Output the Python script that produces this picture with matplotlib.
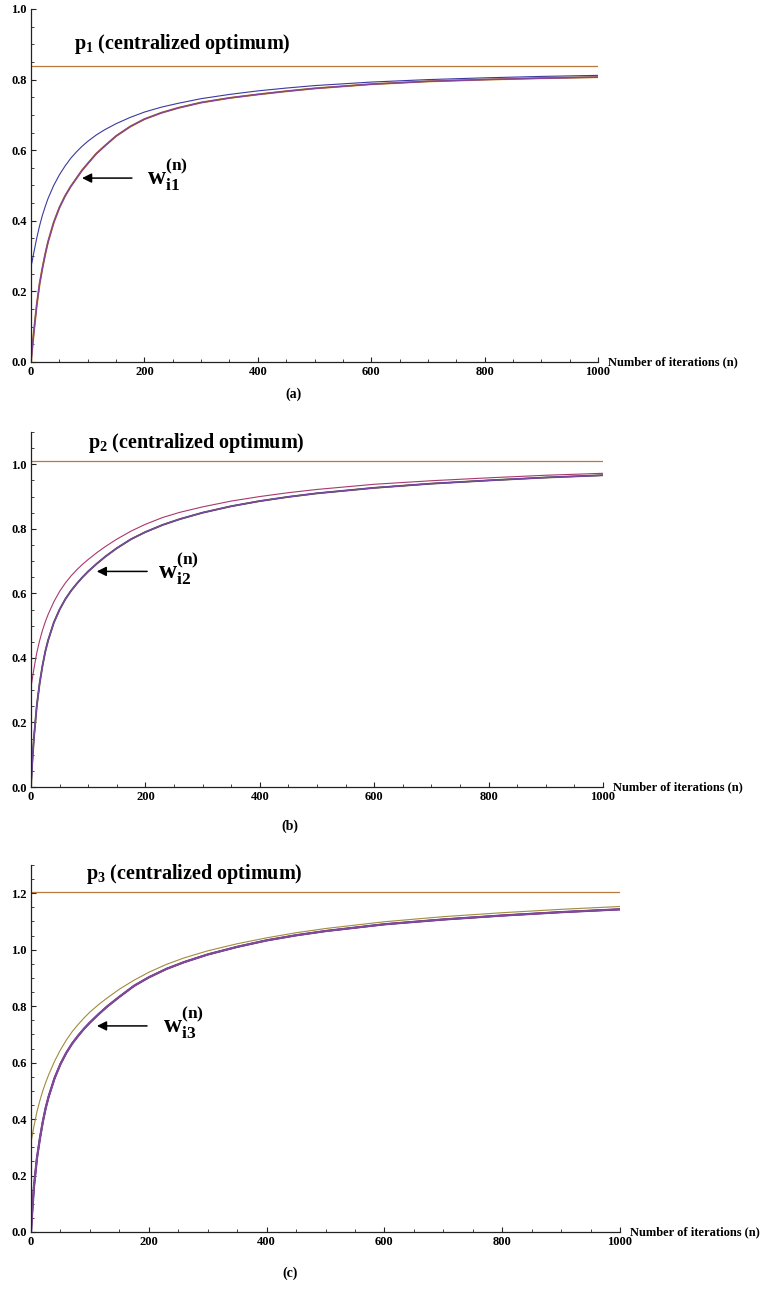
import numpy as np
import matplotlib
matplotlib.use("Agg")
import matplotlib.pyplot as plt
from matplotlib.ticker import MultipleLocator, FormatStrFormatter

plt.rcParams["font.family"] = ["Liberation Serif", "DejaVu Serif"]
plt.rcParams["font.weight"] = "bold"
plt.rcParams["mathtext.fontset"] = "custom"
plt.rcParams["mathtext.rm"] = "Liberation Serif:bold"
plt.rcParams["mathtext.bf"] = "Liberation Serif:bold"
plt.rcParams["mathtext.it"] = "Liberation Serif:bold"

n = [0, 2, 5, 10, 15, 20, 25, 30, 40, 50, 60, 70, 80, 90, 100, 115, 130, 150,
     175, 200, 230, 260, 300, 350, 400, 450, 500, 600, 700, 800, 900, 1000]

# (a) resource 1
p1 = 0.838
w1_fast = [0.27, 0.285, 0.31, 0.35, 0.385, 0.415, 0.44, 0.463, 0.50, 0.53, 0.555,
           0.577, 0.595, 0.611, 0.625, 0.643, 0.658, 0.675, 0.693, 0.708, 0.722,
           0.733, 0.746, 0.758, 0.768, 0.776, 0.783, 0.793, 0.80, 0.805, 0.809, 0.812]
w1_rest = [0.0, 0.035, 0.085, 0.16, 0.22, 0.265, 0.305, 0.34, 0.395, 0.437, 0.47,
           0.497, 0.52, 0.543, 0.562, 0.59, 0.612, 0.64, 0.667, 0.688, 0.706, 0.72,
           0.735, 0.748, 0.758, 0.767, 0.775, 0.787, 0.795, 0.80, 0.804, 0.807]

# (b) resource 2
p2 = 1.009
w2_fast = [0.31, 0.332, 0.365, 0.415, 0.453, 0.485, 0.512, 0.535, 0.574, 0.606,
           0.632, 0.654, 0.673, 0.69, 0.705, 0.726, 0.745, 0.768, 0.793, 0.814,
           0.835, 0.851, 0.868, 0.886, 0.90, 0.912, 0.922, 0.938, 0.949, 0.958,
           0.966, 0.972]
w2_rest = [0.0, 0.07, 0.15, 0.25, 0.32, 0.375, 0.42, 0.455, 0.51, 0.55, 0.582,
           0.608, 0.63, 0.65, 0.668, 0.692, 0.714, 0.74, 0.768, 0.79, 0.812, 0.83,
           0.85, 0.87, 0.886, 0.899, 0.91, 0.927, 0.94, 0.95, 0.959, 0.966]

# (c) resource 3
p3 = 1.203
w3_fast = [0.318, 0.34, 0.375, 0.425, 0.465, 0.50, 0.53, 0.557, 0.605, 0.645,
           0.68, 0.71, 0.735, 0.758, 0.779, 0.806, 0.83, 0.86, 0.892, 0.92, 0.948,
           0.971, 0.996, 1.021, 1.042, 1.06, 1.075, 1.099, 1.117, 1.131, 1.143, 1.153]
w3_rest = [0.0, 0.07, 0.16, 0.26, 0.33, 0.39, 0.44, 0.48, 0.545, 0.595, 0.635,
           0.668, 0.695, 0.72, 0.742, 0.772, 0.80, 0.833, 0.872, 0.902, 0.932,
           0.956, 0.983, 1.01, 1.033, 1.051, 1.066, 1.09, 1.107, 1.121, 1.133, 1.143]

BROWN = "#b87a3c"
BLUE = "#3a3aa0"
MAGENTA = "#a8386e"
OLIVE = "#a08c3a"
PURPLE = "#7c4a9e"
YELLOW = "#c8b440"


def style_axes(ax, ymax):
    ax.set_xlim(0, 1000)
    ax.set_ylim(0, ymax)
    for s in ("top", "right"):
        ax.spines[s].set_visible(False)
    for s in ("left", "bottom"):
        ax.spines[s].set_color("#222222")
        ax.spines[s].set_linewidth(0.9)
    ax.xaxis.set_major_locator(MultipleLocator(200))
    ax.xaxis.set_minor_locator(MultipleLocator(50))
    ax.yaxis.set_major_locator(MultipleLocator(0.2))
    ax.yaxis.set_minor_locator(MultipleLocator(0.05))
    ax.yaxis.set_major_formatter(FormatStrFormatter("%.1f"))
    ax.tick_params(which="major", direction="in", length=3.5, width=0.8,
                   labelsize=9, pad=3, color="#222222")
    ax.tick_params(which="minor", direction="in", length=2, width=0.6,
                   color="#222222")
    for lab in ax.get_xticklabels() + ax.get_yticklabels():
        lab.set_fontweight("bold")
    ax.annotate("Number of iterations (n)", xy=(1, 0), xycoords="axes fraction",
                xytext=(7, 0), textcoords="offset points", ha="left", va="center",
                fontsize=9, fontweight="bold")


fig = plt.figure(figsize=(7.7, 12.89), dpi=100)
W, H = 770.0, 1289.0


def add_ax(left, right, bottom, top):
    return fig.add_axes([left / W, 1 - bottom / H, (right - left) / W, (bottom - top) / H])


axa = add_ax(31, 598, 362, 9)
axb = add_ax(31, 603, 787, 432)
axc = add_ax(31, 620, 1232, 865)

panels = [
    dict(ax=axa, p=p1, fast=w1_fast, rest=w1_rest, fcol=BLUE, ymax=1.0,
         bundle=[(YELLOW, 1.5), (MAGENTA, 1.1), (PURPLE, 0.8)],
         title="$\\mathbf{p_1}$ (centralized optimum)", tx=76, ty=0.90,
         wlab="$\\mathbf{w_{i1}^{(n)}}$", tip=(90, 0.521), tail=178, lab=(205, 0.50)),
    dict(ax=axb, p=p2, fast=w2_fast, rest=w2_rest, fcol=MAGENTA, ymax=1.1,
         bundle=[(OLIVE, 1.4), (BLUE, 1.1), (PURPLE, 0.9)],
         title="$\\mathbf{p_2}$ (centralized optimum)", tx=100, ty=1.066,
         wlab="$\\mathbf{w_{i2}^{(n)}}$", tip=(115, 0.668), tail=203, lab=(222, 0.646)),
    dict(ax=axc, p=p3, fast=w3_fast, rest=w3_rest, fcol=OLIVE, ymax=1.3,
         bundle=[(BLUE, 1.6), (MAGENTA, 1.3), (PURPLE, 1.1)],
         title="$\\mathbf{p_3}$ (centralized optimum)", tx=93, ty=1.268,
         wlab="$\\mathbf{w_{i3}^{(n)}}$", tip=(112, 0.730), tail=197, lab=(224, 0.705)),
]

for d in panels:
    ax = d["ax"]
    style_axes(ax, d["ymax"])
    ax.plot([0, 1000], [d["p"], d["p"]], color=BROWN, lw=0.9)
    for col, lw in d["bundle"]:
        ax.plot(n, d["rest"], color=col, lw=lw)
    ax.plot(n, d["fast"], color=d["fcol"], lw=0.8)
    ax.text(d["tx"], d["ty"], d["title"], fontsize=14.5, fontweight="bold",
            ha="left", va="center")
    ax.annotate("", xy=d["tip"], xytext=(d["tail"], d["tip"][1]),
                arrowprops=dict(arrowstyle="-|>", color="black", lw=1.1,
                                mutation_scale=14, shrinkA=0, shrinkB=0))
    ax.text(d["lab"][0], d["lab"][1], d["wlab"], fontsize=18, ha="left", va="baseline")

fig.text(293 / W, 1 - 394 / H, "(a)", fontsize=10, fontweight="bold", ha="center", va="center")
fig.text(290 / W, 1 - 826 / H, "(b)", fontsize=10, fontweight="bold", ha="center", va="center")
fig.text(290 / W, 1 - 1273 / H, "(c)", fontsize=10, fontweight="bold", ha="center", va="center")

fig.savefig("out.png", dpi=100, facecolor="white")
